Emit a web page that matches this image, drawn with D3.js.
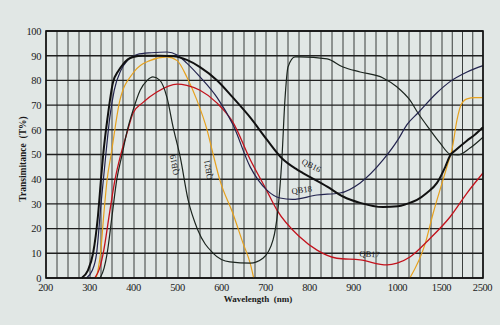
<!DOCTYPE html>
<html>
<head>
<meta charset="utf-8">
<script src="https://cdn.jsdelivr.net/npm/d3@7/dist/d3.min.js"></script>
<style>
  html, body { margin: 0; padding: 0; background: #e1e7e5; }
  svg { display: block; }
  text { font-family: "Liberation Serif", "DejaVu Serif", serif; fill: #1a1a1a; }
</style>
</head>
<body>
<svg id="chart" width="500" height="325"></svg>
<script>
// Axis ticks and grid
const xTickValues = [200, 300, 400, 500, 600, 700, 800, 900, 1000, 1500, 2500];
const yTickValues = [0, 10, 20, 30, 40, 50, 60, 70, 80, 90, 100];
const xGridValues = d3.range(200, 1001, 25).concat([1125, 1250, 1375, 1500, 1750, 2000, 2250, 2500]);

// Transmittance curves (wavelength in nm, transmittance in %)
const qb16Nm = [281, 295, 307, 318, 325, 330, 340, 352, 365, 375, 386, 398, 420, 460, 490, 520, 550, 589, 625, 664, 702, 736, 770, 784, 839, 875, 914, 966, 1000, 1100, 1216, 1330, 1443, 1580, 1695, 1850, 2100, 2300, 2500];
const qb16T  = [0, 3, 10, 25, 40, 50, 65, 79, 84, 86.5, 88.5, 89.5, 90, 90, 89.8, 88.3, 85.4, 80, 73, 65, 56, 48.5, 44, 42.5, 37, 33, 30.4, 28.7, 29, 30, 31.6, 34.5, 38.5, 45, 49.5, 52, 55.5, 58, 61];

const qb18Nm = [292, 305, 315, 325, 336, 345, 355, 370, 385, 407, 440, 475, 498, 520, 550, 589, 625, 664, 702, 732, 760, 816, 868, 914, 966, 1000, 1100, 1227, 1443, 1695, 2110, 2500];
const qb18T  = [0, 3, 10, 30, 50, 65, 76, 84, 88, 90.5, 91.2, 91.5, 90.3, 87, 81.4, 73, 62, 45, 35.6, 32.4, 31.8, 33.6, 34.4, 38.5, 47.8, 56, 62, 66.8, 75, 79.5, 83.4, 86];

const qb17Nm = [311, 322, 330, 345, 357, 370, 384, 398, 420, 452, 498, 520, 550, 589, 625, 664, 700, 725, 777, 816, 861, 914, 975, 998, 1136, 1364, 1695, 2110, 2500];
const qb17T  = [0, 4, 10, 27, 40, 50, 58.7, 66.8, 71, 75.3, 78.5, 78, 76, 70.8, 63, 48, 36, 27.5, 16.6, 11.3, 8, 7.3, 5.3, 6, 8.5, 16, 24.7, 34.4, 42.5];

const qb19Nm = [323, 332, 339, 350, 361, 373, 385, 398, 414, 430, 443, 459, 475, 489, 505, 523, 545, 580, 618, 664, 693, 716, 727, 736, 743, 750, 766, 777, 839, 875, 914, 966, 998, 1136, 1227, 1364, 1477, 1695, 1890, 2183, 2500];
const qb19T  = [0, 4, 10, 25, 40, 50, 60, 68, 76, 80, 81.4, 80, 73, 61, 49, 31.6, 19.4, 10, 6.5, 6, 8, 15.4, 27.5, 47.8, 72, 85.4, 89.5, 89.5, 88.7, 85.4, 83.4, 81, 77.3, 72, 66.8, 60, 54.7, 50.2, 49.8, 52.6, 57];

const qb21Nm = [314, 319, 324, 331, 339, 348, 368, 398, 436, 475, 498, 520, 543, 566, 580, 595, 625, 648, 664, 672, null, 1135, 1310, 1398, 1524, 1646, 1744, 1866, 1963, 2110, 2300, 2500];
const qb21T  = [0, 4, 10, 25, 40, 50, 72, 83, 88, 89.5, 88, 81.4, 72, 60, 50, 39.7, 26, 14, 6, 0, null, 0, 14, 26, 39.7, 46.5, 52, 64, 70, 72.5, 73, 73];

const seriesNames  = ["QB21", "QB17", "QB19", "QB18", "QB16"];
const seriesNm     = [qb21Nm, qb17Nm, qb19Nm, qb18Nm, qb16Nm];
const seriesT      = [qb21T, qb17T, qb19T, qb18T, qb16T];
const seriesColors = ["#e6a11e", "#c3121c", "#1b241e", "#23244e", "#111111"];
const seriesWidths = [1.2, 1.3, 1.2, 1.2, 2.0];

const svg = d3.select("#chart");
const plotLeft = 46, plotRight = 483, plotTop = 31, plotBottom = 278;

// Piecewise wavelength axis: linear to 1000 nm, compressed beyond
const x = d3.scaleLinear()
  .domain([200, 1000, 1500, 2500])
  .range([plotLeft, 398, 442, plotRight]);
const y = d3.scaleLinear().domain([0, 100]).range([plotBottom, plotTop]);

// Vertical grid
svg.append("g")
  .selectAll("line")
  .data(xGridValues)
  .join("line")
  .attr("x1", d => x(d)).attr("x2", d => x(d))
  .attr("y1", plotTop).attr("y2", plotBottom)
  .attr("stroke", "#3b3f3d")
  .attr("stroke-width", 1);

// Horizontal grid
svg.append("g")
  .selectAll("line")
  .data(yTickValues)
  .join("line")
  .attr("x1", plotLeft).attr("x2", plotRight)
  .attr("y1", d => y(d)).attr("y2", d => y(d))
  .attr("stroke", "#202020")
  .attr("stroke-width", 1.4);

// Curves
const line = d3.line()
  .defined(d => d[0] !== null)
  .x(d => x(d[0]))
  .y(d => y(d[1]))
  .curve(d3.curveMonotoneX);

seriesNames.forEach((name, i) => {
  const pts = seriesNm[i].map((nm, j) => [nm, seriesT[i][j]]);
  svg.append("path")
    .datum(pts)
    .attr("fill", "none")
    .attr("stroke", seriesColors[i])
    .attr("stroke-width", seriesWidths[i])
    .attr("stroke-linejoin", "round")
    .attr("d", line);
});

// Frame
svg.append("rect")
  .attr("x", plotLeft).attr("y", plotTop)
  .attr("width", plotRight - plotLeft).attr("height", plotBottom - plotTop)
  .attr("fill", "none")
  .attr("stroke", "#111")
  .attr("stroke-width", 1.6);

// Axes
const xAxis = d3.axisBottom(x).tickValues(xTickValues).tickSize(0).tickPadding(6)
  .tickFormat(d3.format("d"));
const gx = svg.append("g").attr("transform", `translate(-1,${plotBottom})`).call(xAxis);
gx.select(".domain").remove();
gx.selectAll("text").attr("font-size", 10.5).attr("fill", "#1a1a1a")
  .attr("font-family", "Liberation Serif, serif").attr("letter-spacing", -0.4);

const yAxis = d3.axisLeft(y).tickValues(yTickValues).tickSize(0).tickPadding(5)
  .tickFormat(d3.format("d"));
const gy = svg.append("g").attr("transform", `translate(${plotLeft},0)`).call(yAxis);
gy.select(".domain").remove();
gy.selectAll("text").attr("font-size", 10.5).attr("fill", "#1a1a1a")
  .attr("font-family", "Liberation Serif, serif").attr("letter-spacing", -0.4);

// Axis titles
svg.append("text")
  .attr("x", 258).attr("y", 302)
  .attr("text-anchor", "middle")
  .attr("font-size", 9).attr("font-weight", "bold")
  .attr("xml:space", "preserve")
  .text("Wavelength  (nm)");

svg.append("text")
  .attr("transform", "translate(26,159) rotate(-90)")
  .attr("text-anchor", "middle")
  .attr("font-size", 9.5).attr("font-weight", "bold")
  .attr("xml:space", "preserve")
  .text("Transimitance  (T%)");

// Curve labels
const labelFont = 8.5;
function curveLabel(txt, nm, t, angle) {
  svg.append("text")
    .attr("transform", `translate(${x(nm)},${y(t)}) rotate(${angle})`)
    .attr("text-anchor", "middle")
    .attr("font-size", labelFont)
    .attr("fill", "#1a1a1a")
    .text(txt);
}
curveLabel("QB16", 800, 44.5, 27);
curveLabel("QB18", 782, 34.5, -8);
curveLabel("QB17", 935, 8.5, 3);
curveLabel("QB19", 498, 46, -100);
curveLabel("QB21", 575, 44, -100);
</script>
</body>
</html>
